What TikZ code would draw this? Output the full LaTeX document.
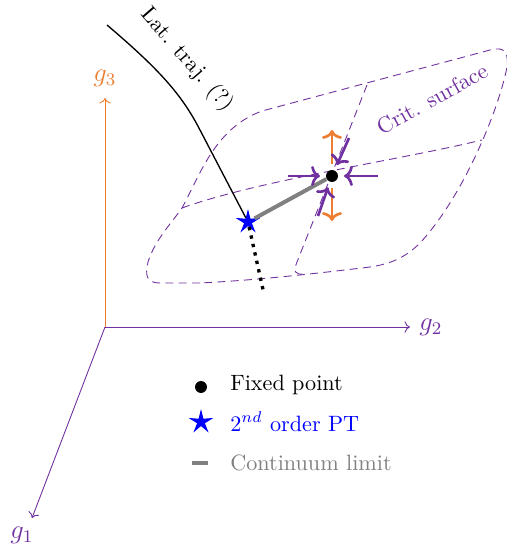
\documentclass[tikz,border=0pt]{standalone}
\usepackage{xcolor}
\usepackage{amsmath,amssymb}
\usepackage{tikz}
\usetikzlibrary{arrows.meta,shapes.geometric}

\definecolor{critpurple}{HTML}{7030A0}
\definecolor{relorange}{HTML}{ED7D31}

\begin{document}
\begin{tikzpicture}[
  x=0.451pt, y=-0.451pt,
  gaxis/.style={->},
  glabel/.style={font=\large},
  surf/.style={critpurple, dash pattern=on 3.6pt off 2.4pt},
  lattraj/.style={semithick},
  contline/.style={gray, line width=1.8pt},
  fpdot/.style={circle, fill=black, minimum size=5.4pt, inner sep=0pt},
  ptstar/.style={star, star points=5, star point ratio=3.2, fill=blue, draw=blue, minimum size=10pt, inner sep=0pt},
  relflow/.style={-{To[length=4pt,width=9pt]}, very thick, relorange, shorten <=2.5pt},
  irrflow/.style={-{To[length=4pt,width=9pt]}, very thick, critpurple, shorten >=2.5pt}
]
\useasboundingbox (0,0) rectangle (507,547);

% axes
\coordinate (o) at (105,327);
\node[glabel, text=relorange] (g3) at (105,78) {$g_3$};
\node[glabel, text=critpurple] (g2) at (431,327) {$g_2$};
\node[glabel, text=critpurple] (g1) at (22,535) {$g_1$};
\coordinate (g3end) at (105,98);
\coordinate (g2end) at (410,327);
\coordinate (g1end) at (32,518);
\draw[gaxis, relorange] (o) -- (g3end);
\draw[gaxis, critpurple] (o) -- (g2end);
\draw[gaxis, critpurple] (o) -- (g1end);

% critical surface
\draw[surf] (200,283) -- (160,283) .. controls (146,283) and (145,275) .. (148,262)
  .. controls (155,240) and (170,225) .. (182,208)
  .. controls (200,175) and (215,128) .. (262,111) -- (490,50)
  .. controls (505,46) and (510,52) .. (506,72)
  .. controls (495,120) and (460,200) .. (420,243)
  .. controls (405,258) and (390,264) .. (370,267)
  .. controls (320,273) and (260,280) .. (200,283);
\draw[surf] (182,208) .. controls (260,180) and (400,160) .. (482,140);
\draw[surf] (367,85) -- (297,262) .. controls (293,272) and (295,275) .. (305,274);
\node[rotate=29, text=critpurple] (crit) at (432,99) {Crit. surface};

% points
\node[fpdot] (fp) at (332,176) {};
\node[ptstar] (pt) at (248,222) {};

% lattice trajectory
\coordinate (ltstart) at (107,25);
\coordinate (ltend) at (264,294);
\draw[lattraj] (ltstart) .. controls (160,70) and (182,95) .. (200,130) -- (pt);
\draw[line width=1.5pt, dash pattern=on 1.5pt off 2.4pt] (pt) -- (ltend);
\node[rotate=-49] (lat) at (187,60) {Lat. traj. (?)};

% continuum limit
\draw[contline] (pt) -- (fp);

% flows near the fixed point
\coordinate (relup) at (332,130);
\coordinate (reldown) at (332,221);
\coordinate (irrleft) at (288,176);
\coordinate (irrright) at (378,176);
\coordinate (irrup) at (349,138);
\coordinate (irrdown) at (318,216);
\draw[relflow] (fp) -- (relup);
\draw[relflow] (fp) -- (reldown);
\draw[irrflow] (irrleft) -- (fp);
\draw[irrflow] (irrright) -- (fp);
\draw[irrflow] (irrup) -- (fp);
\draw[irrflow] (irrdown) -- (fp);

% legend
\node[fpdot] (lgfp) at (201,387) {};
\node[anchor=base west] (lgfptext) at (222.5,390) {Fixed point};
\node[ptstar] (lgpt) at (201,422) {};
\node[anchor=base west, text=blue] (lgpttext) at (222.5,431) {$2^{nd}$ order PT};
\coordinate (lgcl1) at (192,463);
\coordinate (lgcl2) at (208,463);
\draw[contline] (lgcl1) -- (lgcl2);
\node[anchor=base west, text=gray] (lgcltext) at (222.5,470) {Continuum limit};
\end{tikzpicture}
\end{document}
